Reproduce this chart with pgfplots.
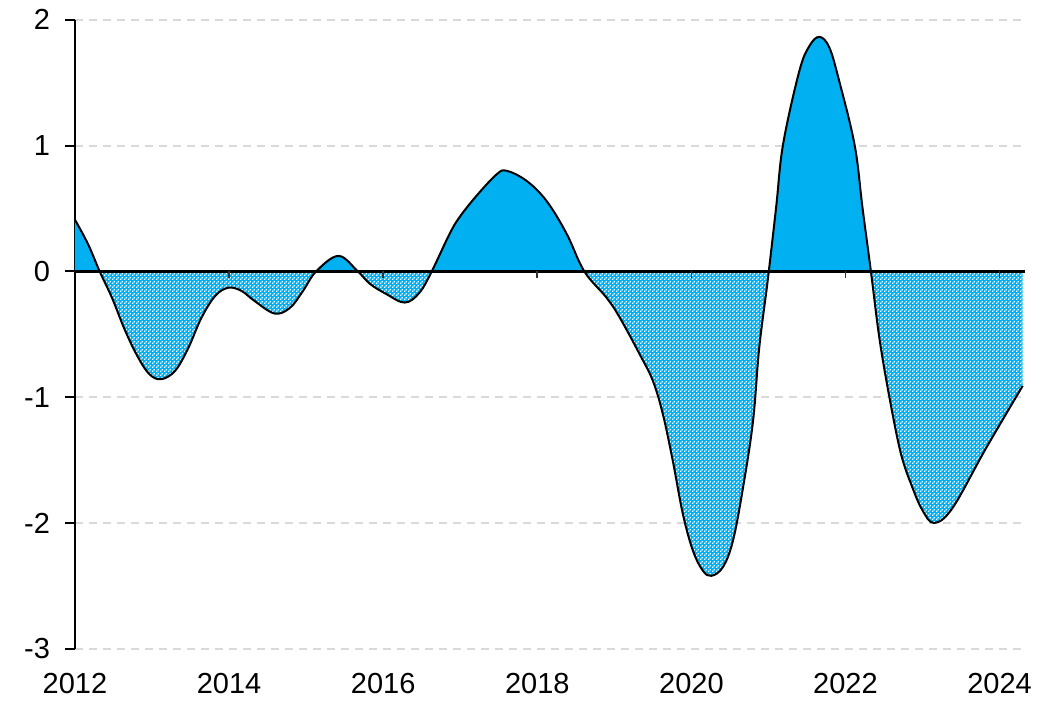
\documentclass[border=0pt]{standalone}
\usepackage{fontspec}
\setmainfont{Liberation Sans}
\usepackage{pgfplots}
\pgfplotsset{compat=1.18}
\usepackage{pgfplotstable}
\usetikzlibrary{patterns}
\definecolor{cyanc}{HTML}{00B0F0}
\definecolor{gridc}{HTML}{D9D9D9}
\pgfdeclarepatternformonly{holes}{\pgfpointorigin}{\pgfpoint{2pt}{2pt}}{\pgfpoint{2pt}{2pt}}{%
  \pgfpathrectangle{\pgfpointorigin}{\pgfpoint{0.8pt}{0.8pt}}%
  \pgfpathrectangle{\pgfpoint{1pt}{1pt}}{\pgfpoint{0.8pt}{0.8pt}}%
  \pgfusepath{fill}%
}
% t = years since start of 2012
\pgfplotstableread{
t v
0.00 0.41
0.17 0.216
0.32 0.00
0.48 -0.21
0.65 -0.47
0.82 -0.685
0.97 -0.82
1.12 -0.857
1.30 -0.79
1.47 -0.61
1.64 -0.37
1.82 -0.195
1.99 -0.13
2.16 -0.155
2.33 -0.235
2.59 -0.335
2.79 -0.29
2.96 -0.155
3.13 0.00
3.42 0.123
3.67 0.00
3.83 -0.10
4.04 -0.18
4.28 -0.248
4.47 -0.17
4.63 0.00
4.86 0.296
4.99 0.43
5.21 0.60
5.47 0.77
5.60 0.80
5.86 0.72
6.12 0.56
6.38 0.30
6.61 0.00
6.90 -0.21
7.07 -0.367
7.33 -0.66
7.50 -0.87
7.63 -1.135
7.76 -1.51
7.89 -1.93
8.02 -2.22
8.15 -2.38
8.26 -2.42
8.41 -2.35
8.54 -2.14
8.67 -1.72
8.80 -1.19
8.88 -0.61
8.99 -0.075
9.10 0.51
9.19 1.01
9.40 1.59
9.53 1.79
9.66 1.864
9.79 1.78
9.92 1.51
10.12 1.00
10.22 0.51
10.33 0.00
10.44 -0.53
10.57 -1.00
10.72 -1.45
10.87 -1.72
11.00 -1.90
11.15 -2.00
11.39 -1.88
11.82 -1.41
12.30 -0.91
}\data
\begin{document}
\begin{tikzpicture}
\fontsize{14.5}{17}\selectfont
\begin{axis}[
  at={(0,0)}, anchor=south west,
  scale only axis,
  width=475pt, height=314.5pt,
  xmin=0, xmax=12.33,
  ymin=-3, ymax=2,
  axis y line*=left,
  axis x line*=bottom,
  x axis line style={draw=none},
  y axis line style={black, line width=1pt},
  xtick={0,2,...,12},
  xticklabels={2012,2014,2016,2018,2020,2022,2024},
  ytick={-3,-2,...,2},
  xticklabel style={yshift=-2pt},
  yticklabel style={xshift=-2.5pt},
  x tick style={draw=none},
  y tick style={black, line width=1pt},
  tick align=outside,
  major tick length=5pt,
  /pgf/number format/assume math mode=true,
  tick label style={font=\fontsize{14.5}{17}\selectfont},
  ymajorgrids,
  grid style={gridc, line width=1pt, dash pattern=on 4pt off 3pt},
]
\begin{scope}
\clip (axis cs:0,0) rectangle (axis cs:12.33,2.5);
\addplot[draw=none, fill=cyanc, smooth, tension=0.6] table {\data} \closedcycle;
\end{scope}
\begin{scope}
\clip (axis cs:0,-3) rectangle (axis cs:12.33,0);
\addplot[draw=none, fill=cyanc, smooth, tension=0.6] table {\data} \closedcycle;
\addplot[draw=none, pattern=holes, pattern color=white, smooth, tension=0.6] table {\data} \closedcycle;
\end{scope}
\draw[black, line width=1.25pt] (axis cs:0,0) -- (axis cs:12.33,0);
\pgfplotsinvokeforeach{2,4,6,8,10,12}{
  \draw[black!80, line width=0.8pt] (axis cs:#1,0) -- ([yshift=-3.5pt]axis cs:#1,0);
}
\addplot[black, line width=1pt, smooth, tension=0.6] table {\data};
\end{axis}
\path (-37.5pt,-24pt) rectangle (493pt,324pt);
\end{tikzpicture}
\end{document}
